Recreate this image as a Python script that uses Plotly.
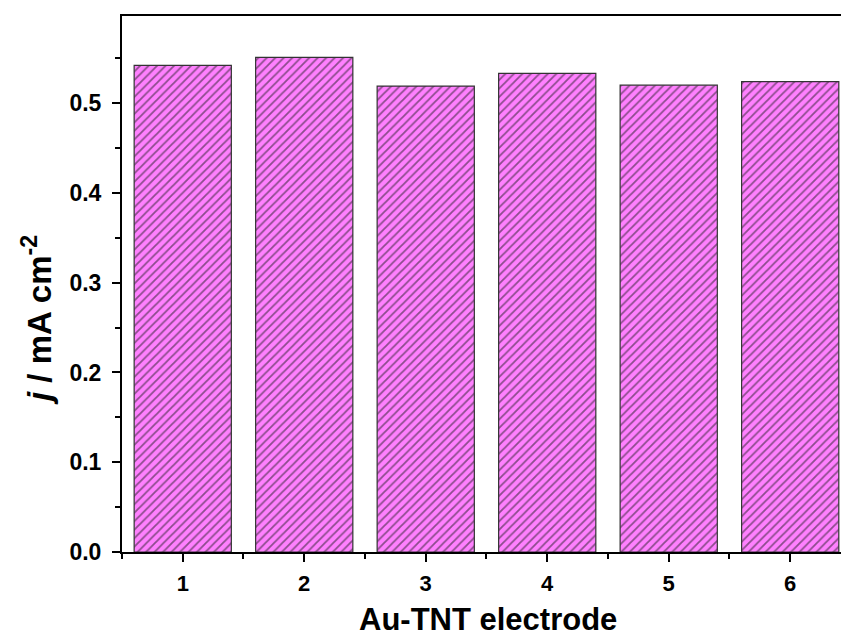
import plotly.graph_objects as go

electrodes = [1, 2, 3, 4, 5, 6]
current_density = [0.542, 0.551, 0.519, 0.533, 0.520, 0.524]

tick_vals_y = [0.0, 0.1, 0.2, 0.3, 0.4, 0.5]
tick_text_y = ["0.0", "0.1", "0.2", "0.3", "0.4", "0.5"]

fig = go.Figure()
fig.add_trace(go.Bar(
    x=electrodes,
    y=current_density,
    width=0.8,
    marker=dict(
        color="#FF80FF",
        line=dict(color="#333333", width=1.2),
        pattern=dict(shape="/", fgcolor="#1a1a1a", bgcolor="#FF80FF", size=6, solidity=0.3),
    ),
    showlegend=False,
))

font_family = "Liberation Sans, Arial, sans-serif"

fig.update_layout(
    width=841, height=640,
    margin=dict(l=122, r=0, t=16, b=88),
    plot_bgcolor="white", paper_bgcolor="white",
    font=dict(family=font_family, color="black"),
    xaxis=dict(
        range=[0.5, 6.418],
        tickvals=electrodes,
        ticktext=[str(e) for e in electrodes],
        ticks="outside", ticklen=8, tickwidth=2, tickcolor="black",
        minor=dict(dtick=0.5, tick0=0.5, ticks="outside", ticklen=5, tickwidth=2, tickcolor="black"),
        showline=True, linewidth=2, linecolor="black", mirror=True,
        showgrid=False, zeroline=False,
        tickfont=dict(size=22, family=font_family, weight="bold"),
        ticklabelstandoff=3,
    ),
    yaxis=dict(
        range=[0, 0.597],
        tickvals=tick_vals_y,
        ticktext=tick_text_y,
        ticks="outside", ticklen=8, tickwidth=2, tickcolor="black",
        minor=dict(dtick=0.05, tick0=0, ticks="outside", ticklen=5, tickwidth=2, tickcolor="black"),
        showline=True, linewidth=2, linecolor="black", mirror=False,
        showgrid=False, zeroline=False,
        tickfont=dict(size=23, family=font_family, weight="bold"),
        ticklabelstandoff=6,
    ),
)

# plot area: x 122..841, y 16..552 (height 536)
fig.add_annotation(
    text="<b><i>j</i> / mA cm<sup>-2</sup></b>",
    textangle=-90,
    xref="paper", yref="paper",
    x=(37 - 122) / 719, y=(552 - 320) / 536,
    xanchor="center", yanchor="middle",
    showarrow=False,
    font=dict(size=33, family=font_family, color="black"),
)

fig.add_annotation(
    text="<b>Au-TNT electrode</b>",
    xref="paper", yref="paper",
    x=(488 - 122) / 719, y=(552 - 619) / 536,
    xanchor="center", yanchor="middle",
    showarrow=False,
    font=dict(size=31, family=font_family, color="black"),
)

fig.write_html(
    "out.html",
    config={"displayModeBar": False},
    post_script="document.body.style.margin='0px';document.documentElement.style.overflow='hidden';",
)
